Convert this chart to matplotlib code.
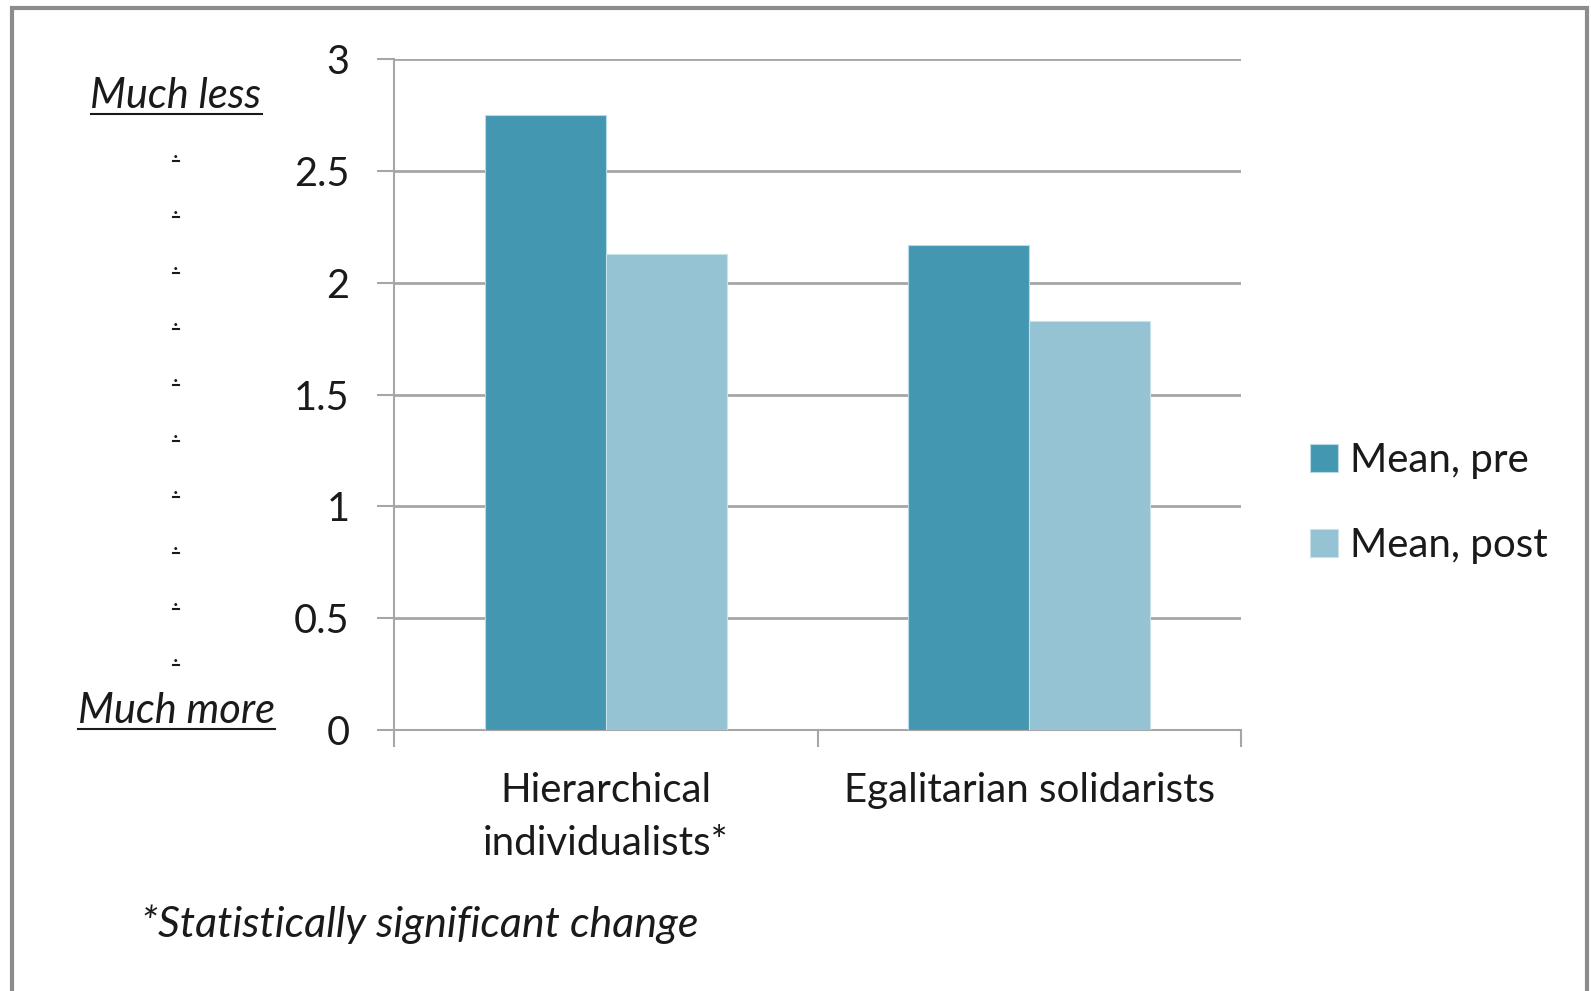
import numpy as np
import matplotlib
matplotlib.use("Agg")
from matplotlib import pyplot as plt
from matplotlib.lines import Line2D
from matplotlib.patches import Rectangle

plt.rcParams['font.family'] = ['Lato', 'DejaVu Sans']

categories = ["Hierarchical\nindividualists*", "Egalitarian solidarists"]
series_names = ["Mean, pre", "Mean, post"]
mean_pre = [2.75, 2.17]
mean_post = [2.13, 1.83]
y_ticks = [0, 0.5, 1, 1.5, 2, 2.5, 3]
y_tick_labels = ["0", "0.5", "1", "1.5", "2", "2.5", "3"]

COLOR_PRE = "#4397b0"
COLOR_POST = "#95c3d4"
GRID = "#a6a6a6"
TEXT = "#1a1a1a"

W, H = 1591, 991
fig = plt.figure(figsize=(W / 100, H / 100), dpi=100)
ax = fig.add_axes([394 / W, 1 - 730 / H, (1241 - 394) / W, (730 - 59) / H])

x = np.arange(len(categories))
bar_w = 1 / 3.5  # excel gap width 150%
ax.bar(x - bar_w / 2, mean_pre, bar_w, color=COLOR_PRE, edgecolor="#b8dbe6",
       linewidth=0.8, label=series_names[0], zorder=3)
ax.bar(x + bar_w / 2, mean_post, bar_w, color=COLOR_POST, edgecolor="#c8e2ea",
       linewidth=0.8, label=series_names[1], zorder=3)

ax.set_xlim(-0.5, len(categories) - 0.5)
ax.set_ylim(0, 3)
ax.set_yticks(y_ticks)
ax.set_yticklabels(y_tick_labels)
ax.yaxis.grid(True, color=GRID, linewidth=2, zorder=0)

# category boundary ticks on x
ax.set_xticks(np.arange(len(categories) + 1) - 0.5)
ax.set_xticklabels([])
ax.set_xticks(x, minor=True)
ax.set_xticklabels(categories, minor=True, fontsize=29, color=TEXT, linespacing=1.55)
ax.tick_params(axis='x', which='minor', length=0, pad=30)
ax.tick_params(axis='x', which='major', length=12, width=1.5, color=GRID, direction='out')
ax.tick_params(axis='y', length=12, width=1.5, color=GRID, labelsize=28.5, labelcolor=TEXT, pad=20)

for s in ["top", "right"]:
    ax.spines[s].set_visible(False)
for s in ["left", "bottom"]:
    ax.spines[s].set_color(GRID)
    ax.spines[s].set_linewidth(1.5)

leg = fig.legend(loc="center left", bbox_to_anchor=(1290 / W, 1 - 503 / H), frameon=False,
                 fontsize=29, handlelength=0.68, handleheight=0.68, handletextpad=0.3,
                 labelspacing=1.2, borderpad=0)
for t in leg.get_texts():
    t.set_color(TEXT)

# left scale labels
scale_labels = ["Much less"] + ["."] * 10 + ["Much more"]
ys = np.linspace(1 - 96 / H, 1 - 711 / H, len(scale_labels))
scale_texts = []
for lbl, yy in zip(scale_labels, ys):
    big = lbl != "."
    t = fig.text(176 / W, yy, lbl, ha="center", va="center", style="italic" if big else "normal",
                 fontsize=30 if big else 17, color=TEXT)
    scale_texts.append(t)

fig.text(141 / W, 1 - 924 / H, "*Statistically significant change", style="italic",
         fontsize=31, color=TEXT, va="center", ha="left")

# underline the scale labels
fig.canvas.draw()
r = fig.canvas.get_renderer()
for t in scale_texts:
    bb = t.get_window_extent(r)
    yline = bb.y0 + 1
    fig.add_artist(Line2D([bb.x0 / W, bb.x1 / W], [yline / H, yline / H],
                          color=TEXT, linewidth=1.5))

# outer frame
fig.add_artist(Rectangle((12 / W, -0.05), (1587 - 12) / W, 1.05 - 8 / H, fill=False,
                         edgecolor="#8c8c8c", linewidth=3, transform=fig.transFigure))

fig.savefig("out.png", dpi=100)
